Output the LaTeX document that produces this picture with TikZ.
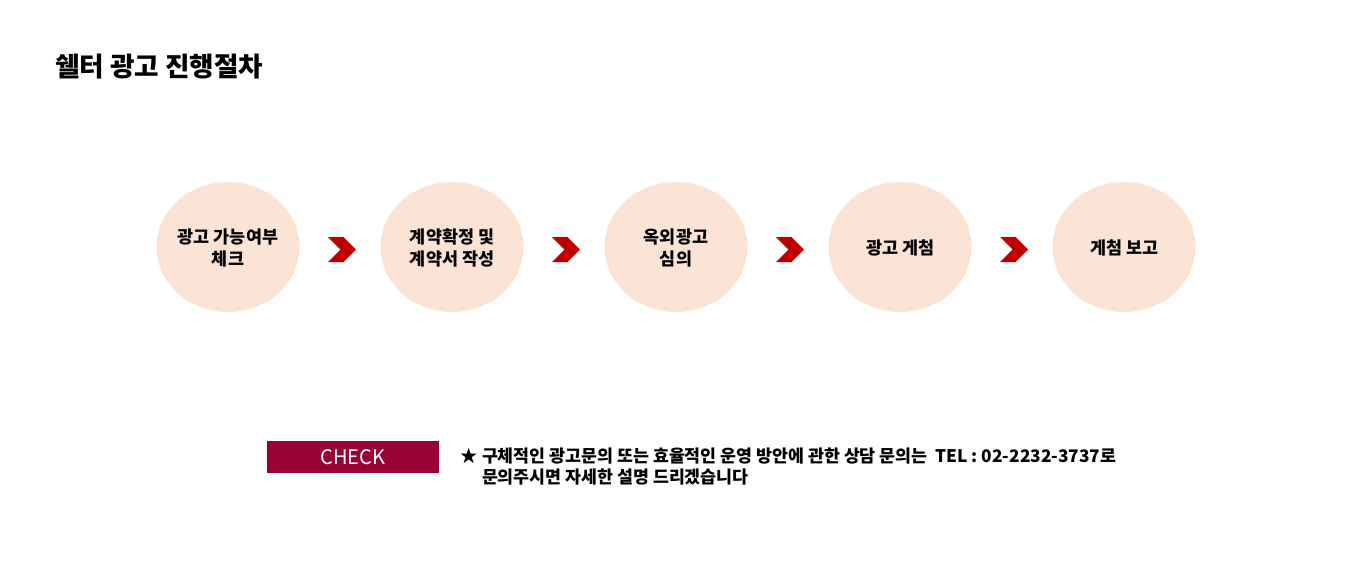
\documentclass[tikz,border=0pt]{standalone}
\usepackage{fontspec}
\setmainfont{Noto Sans CJK KR}
\usetikzlibrary{positioning, shapes.geometric, shapes.symbols, calc}
\definecolor{stageFill}{HTML}{FBE3D6}
\definecolor{chevColor}{HTML}{C00000}
\definecolor{checkColor}{HTML}{990033}

\begin{document}
\begin{tikzpicture}[
    x=0.5pt, y=-0.5pt,
    every node/.style={font=\fontsize{8.7}{11}\selectfont\bfseries},
    stage/.style={
        ellipse,
        fill=stageFill,
        minimum width=71.5pt,
        minimum height=65pt,
        inner sep=0pt,
        outer sep=0pt,
        align=center,
        text depth=-3pt,
    },
    chevron/.style={
        signal,
        signal to=east,
        signal from=west,
        signal pointer angle=90,
        fill=chevColor,
        minimum width=14pt,
        minimum height=12.5pt,
        inner sep=0pt,
        xshift=1pt,
        yshift=-1.25pt,
    },
    checkbox/.style={
        rectangle,
        fill=checkColor,
        text=white,
        minimum width=86pt,
        minimum height=16pt,
        inner sep=0pt,
        font=\fontsize{10}{12}\selectfont\mdseries,
    },
    note/.style={
        align=left,
        inner sep=0pt,
        font=\fontsize{8.65}{10.5}\selectfont\bfseries,
    },
]

\useasboundingbox (0,0) rectangle (1361,580);

\node[anchor=west, inner sep=0pt, font=\fontsize{13.3}{15}\selectfont\bfseries] (title) at (55,67) {쉘터 광고 진행절차};

% process stages
\node[stage] (c1) at (228,247) {광고 가능여부\\체크};
\node[stage, right=40.5pt of c1] (c2) {계약확정 및\\계약서 작성};
\node[stage, right=40.5pt of c2] (c3) {옥외광고\\심의};
\node[stage, right=40.5pt of c3] (c4) {광고 게첨};
\node[stage, right=40.5pt of c4] (c5) {게첨 보고};

\foreach \a/\b in {c1/c2, c2/c3, c3/c4, c4/c5}
    \node[chevron] (arr-\a) at ($(\a)!0.5!(\b)$) {};

% contact
\node[checkbox] (check) at (353,457) {CHECK};
\node[note, right=10.5pt of check, yshift=-4.75pt] (contact) {%
    ★ 구체적인 광고문의 또는 효율적인 운영 방안에 관한 상담 문의는~ TEL : 02-2232-3737로\\
    \hphantom{★\ }문의주시면 자세한 설명 드리겠습니다};

\end{tikzpicture}
\end{document}
